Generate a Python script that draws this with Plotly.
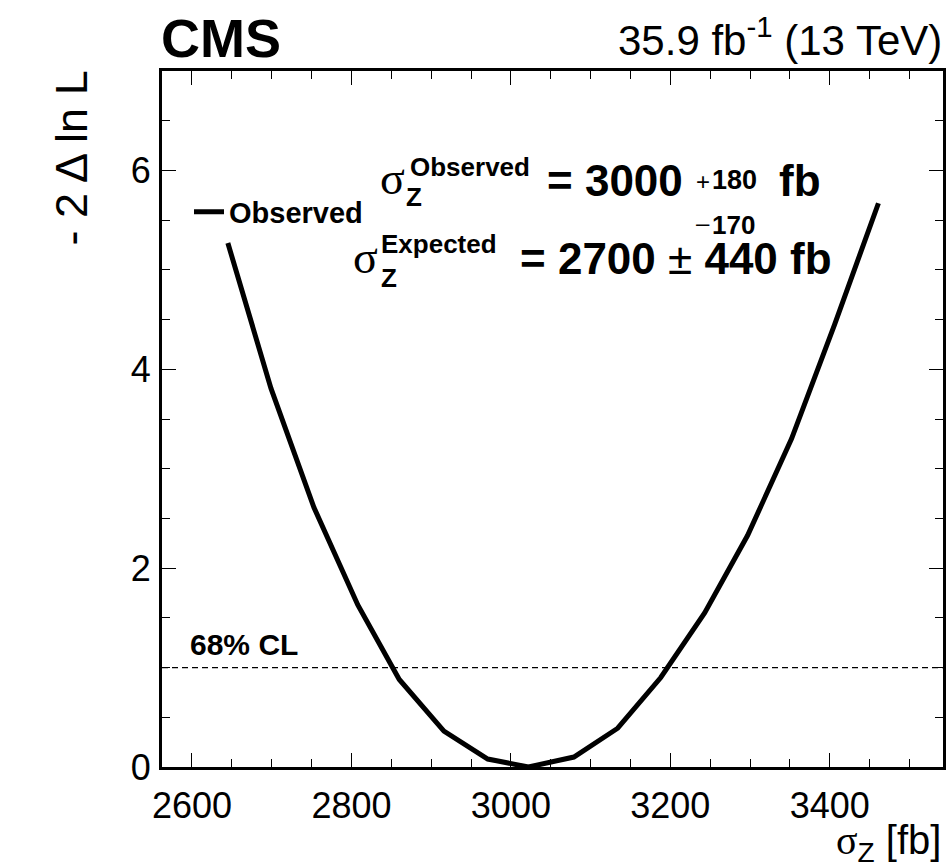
import plotly.graph_objects as go

# Likelihood scan of the Z cross section
sigma_z = [2645, 2699, 2753, 2808, 2860, 2916, 2971, 3022, 3079, 3134,
           3188, 3243, 3297, 3352, 3406, 3461]
minus2_dnll = [5.27, 3.81, 2.61, 1.63, 0.88, 0.36, 0.08, 0.0, 0.10, 0.39,
               0.90, 1.55, 2.33, 3.30, 4.45, 5.67]

cl68_level = 1.0
x_range = [2562.4, 3542]
y_range = [0, 7]

W, H = 949, 867
ML, MR, MT, MB = 162, 6, 71, 100
PW, PH = W - ML - MR, H - MT - MB

SANS = "Liberation Sans, Arial, Helvetica, sans-serif"
SERIF = "Liberation Serif, Times New Roman, serif"


def px(x):
    return (x - ML) / PW


def py(y):
    return (H - MB - y) / PH


annotations = []


def label(text, x, y, size, xanchor="left", bold=False, family=SANS,
          baseline=True, angle=0, yanchor="middle"):
    # y is a glyph baseline in page pixels unless baseline=False
    yc = y - 0.35 * size if baseline else y
    annotations.append(dict(
        text=text, x=px(x), y=py(yc), xref="paper", yref="paper",
        xanchor=xanchor, yanchor=yanchor, showarrow=False, borderpad=0,
        textangle=angle,
        font=dict(family=family, size=size, color="black",
                  weight="bold" if bold else "normal"),
    ))


fig = go.Figure()
fig.add_trace(go.Scatter(
    x=sigma_z, y=minus2_dnll, mode="lines", name="Observed",
    line=dict(color="black", width=5),
))
# same scan on the mirrored (top/right) axes so the frame carries ticks there
fig.add_trace(go.Scatter(
    x=sigma_z, y=minus2_dnll, mode="lines", xaxis="x2", yaxis="y2",
    line=dict(color="rgba(0,0,0,0)", width=0), showlegend=False,
    hoverinfo="skip",
))

fig.add_shape(type="line", xref="paper", yref="y", x0=0, x1=1,
              y0=cl68_level, y1=cl68_level,
              line=dict(color="black", width=1.2, dash="6px,4px"))

# header
label("CMS", 160, 57, 54, bold=True)
label("35.9 fb<sup>-1</sup> (13 TeV)", 943, 52, 42, xanchor="right")

# axis titles
label("- 2 Δ ln L", 71, 70, 45, xanchor="center", baseline=False,
      angle=-90, yanchor="top")
label("<span style='font-family:Liberation Serif'>σ</span><sub>Z</sub> [fb]",
      942, 857, 40, xanchor="right")

# result text, line 1
label("σ", 392, 195, 46, xanchor="center", family=SERIF)
label("Observed", 409, 176, 26, bold=True)
label("Z", 405, 206, 26, bold=True)
label("= 3000", 546, 196, 44, bold=True)
label("+", 703, 182, 24, xanchor="center", baseline=False)
label("180", 711, 189, 27, bold=True)
label("\u2013", 703, 223, 24, xanchor="center", baseline=False)
label("170", 711, 234, 26, bold=True)
label("fb", 778, 196, 44, bold=True)

# result text, line 2
label("σ", 365, 274, 46, xanchor="center", family=SERIF)
label("Expected", 380, 253, 26, bold=True)
label("Z", 380, 287, 26, bold=True)
label("= 2700 <span style='font-weight:normal'>±</span> 440 fb", 519, 274, 44,
      bold=True)

label("68% CL", 189, 655, 30, bold=True)

fig.update_layout(
    width=W, height=H,
    margin=dict(l=ML, r=MR, t=MT, b=MB),
    paper_bgcolor="white", plot_bgcolor="white",
    font=dict(family=SANS, color="black"),
    showlegend=True,
    legend=dict(x=px(189), y=py(212), xanchor="left", yanchor="middle",
                bgcolor="rgba(0,0,0,0)", borderwidth=0,
                font=dict(family=SANS, size=29, weight="bold"),
                itemwidth=30, tracegroupgap=0),
    annotations=annotations,
)

frame = dict(showline=True, linewidth=3, linecolor="black",
             ticks="inside", tickwidth=1.3, tickcolor="black",
             showgrid=False, zeroline=False)
tickfont = dict(family=SANS, size=36, color="black")
x_minor = dict(dtick=50, ticklen=8, tickwidth=1.3, tickcolor="black",
               ticks="inside")
y_minor = dict(dtick=0.5, ticklen=8, tickwidth=1.3, tickcolor="black",
               ticks="inside")

fig.update_layout(
    xaxis=dict(range=x_range, tick0=2600, dtick=200, ticklen=14,
               minor=x_minor, tickfont=tickfont, ticklabelstandoff=5,
               **frame),
    yaxis=dict(range=y_range, tick0=0, dtick=2, ticklen=14,
               minor=y_minor, tickfont=tickfont, ticklabelstandoff=1,
               **frame),
    xaxis2=dict(range=x_range, tick0=2600, dtick=200, ticklen=14,
                minor=x_minor, overlaying="x", side="top", anchor="y2",
                matches="x", showticklabels=False, **frame),
    yaxis2=dict(range=y_range, tick0=0, dtick=2, ticklen=14,
                minor=y_minor, overlaying="y", side="right", anchor="x2",
                matches="y", showticklabels=False, **frame),
)

fig.write_html("out.html")
